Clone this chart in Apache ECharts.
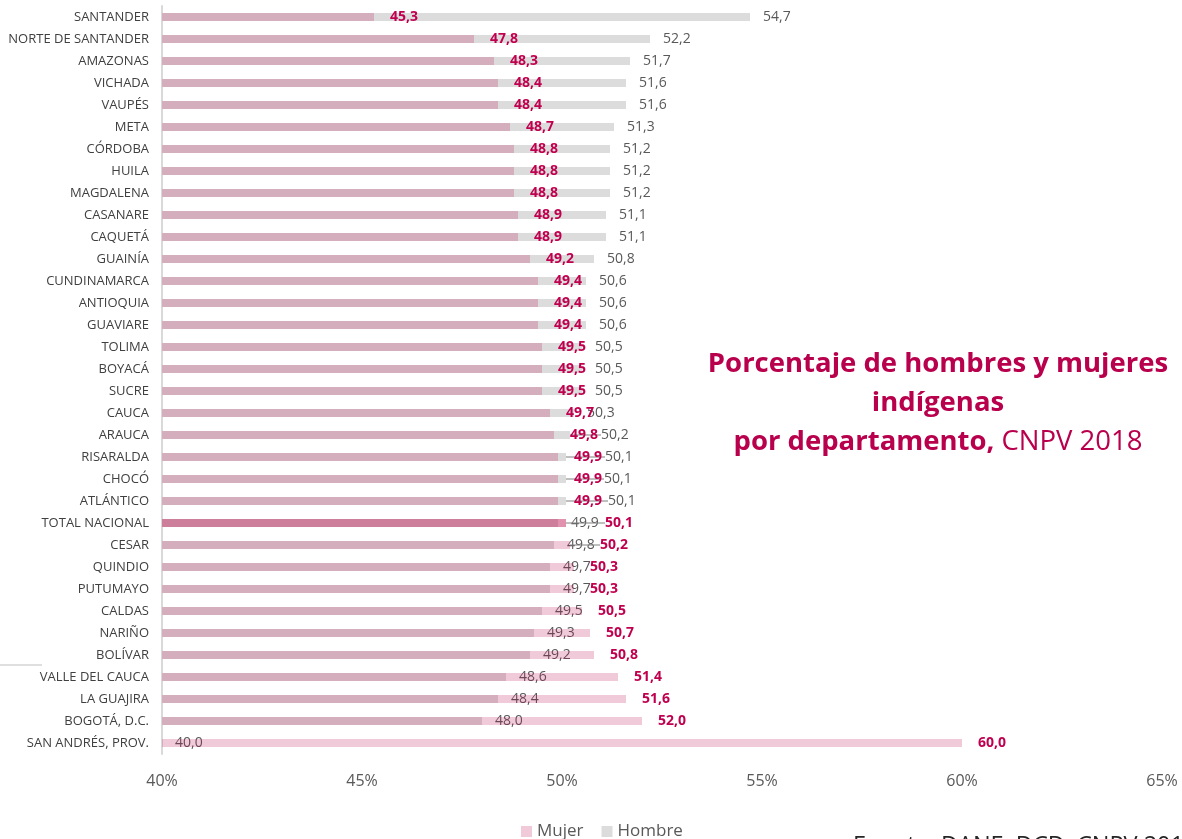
<!DOCTYPE html>
<html>
<head>
<meta charset="utf-8">
<script src="https://cdn.jsdelivr.net/npm/echarts@6/dist/echarts.min.js"></script>
<style>
html,body{margin:0;padding:0;background:#fff;}
#c{width:1182px;height:839px;}
</style>
</head>
<body>
<div id="c"></div>
<script>
const categories = ['SANTANDER','NORTE DE SANTANDER','AMAZONAS','VICHADA','VAUPÉS','META','CÓRDOBA','HUILA','MAGDALENA','CASANARE','CAQUETÁ','GUAINÍA','CUNDINAMARCA','ANTIOQUIA','GUAVIARE','TOLIMA','BOYACÁ','SUCRE','CAUCA','ARAUCA','RISARALDA','CHOCÓ','ATLÁNTICO','TOTAL NACIONAL','CESAR','QUINDIO','PUTUMAYO','CALDAS','NARIÑO','BOLÍVAR','VALLE DEL CAUCA','LA GUAJIRA','BOGOTÁ, D.C.','SAN ANDRÉS, PROV.'];
const mujer = [45.3,47.8,48.3,48.4,48.4,48.7,48.8,48.8,48.8,48.9,48.9,49.2,49.4,49.4,49.4,49.5,49.5,49.5,49.7,49.8,49.9,49.9,49.9,50.1,50.2,50.3,50.3,50.5,50.7,50.8,51.4,51.6,52.0,60.0];
const hombre = [54.7,52.2,51.7,51.6,51.6,51.3,51.2,51.2,51.2,51.1,51.1,50.8,50.6,50.6,50.6,50.5,50.5,50.5,50.3,50.2,50.1,50.1,50.1,49.9,49.8,49.7,49.7,49.5,49.3,49.2,48.6,48.4,48.0,40.0];
const axisMin = 40, axisMax = 65, axisStep = 5;
const seriesNames = ['Mujer','Hombre'];
const totalLabel = 'TOTAL NACIONAL';

// label nudges (styling only): labels moved aside in the original to avoid overlap
const hombreLabelNudge = {'ARAUCA':18,'RISARALDA':26,'CHOCÓ':25,'ATLÁNTICO':29};
const mujerLabelNudge = {'TOTAL NACIONAL':23,'CESAR':14};

const fmt = v => (typeof v === 'object' ? v.value : v).toFixed(1).replace('.', ',');
const chart = echarts.init(document.getElementById('c'), null, {renderer:'canvas'});
const FONT = "'Open Sans', 'Noto Sans', sans-serif";
const leader = {show:true, lineStyle:{color:'#7f7f7f', width:1}};

const hombreData = hombre.map((v,i)=> hombreLabelNudge[categories[i]] ? {value:v, labelLine:leader} : v);
const mujerData = mujer.map((v,i)=> {
  const item = {value:v};
  if (categories[i]===totalLabel) item.itemStyle = {color:'rgba(184,3,69,0.43)'};
  if (mujerLabelNudge[categories[i]]) item.labelLine = leader;
  return item;
});

chart.setOption({
  animation:false,
  backgroundColor:'#ffffff',
  textStyle:{fontFamily:FONT},
  title:{
    left:933, top:340, textAlign:'center',
    text:'{b|Porcentaje de hombres y mujeres}\n{b|indígenas}\n{b|por departamento,}{n| CNPV 2018}',
    textStyle:{
      rich:{
        b:{fontFamily:FONT,fontSize:27.5,fontWeight:'bold',color:'#b8004c',lineHeight:39},
        n:{fontFamily:FONT,fontSize:27.5,fontWeight:'normal',color:'#b8004c',lineHeight:39}
      }
    }
  },
  legend:{
    data:seriesNames,
    left:521, top:823, padding:0,
    itemWidth:11, itemHeight:11, itemGap:18,
    icon:'rect',
    textStyle:{fontFamily:FONT,fontSize:17,color:'#595959'}
  },
  grid:{left:162, right:20, top:6, bottom:85, containLabel:false},
  xAxis:{
    type:'value', min:axisMin, max:axisMax, interval:axisStep,
    axisLine:{show:false}, axisTick:{show:false}, splitLine:{show:false},
    axisLabel:{formatter:'{value}%', fontFamily:FONT, fontSize:16, color:'#595959', margin:19}
  },
  yAxis:{
    type:'category', data:categories, inverse:true,
    axisLine:{show:true, lineStyle:{color:'#d9d9d9', width:2}},
    axisTick:{show:false},
    axisLabel:{fontFamily:FONT, fontSize:13, color:'#404040', margin:13}
  },
  series:[
    {
      name:'Hombre', type:'bar', barWidth:8, barGap:'-100%', z:2,
      itemStyle:{color:'#dcdcdc'},
      data:hombreData,
      label:{show:true, position:'right', distance:13, formatter:p=>fmt(p.value),
        fontFamily:FONT, fontSize:14, color:'#595959', offset:[0,1]},
      labelLine:{show:false},
      labelLayout:function(p){ const d = hombreLabelNudge[categories[p.dataIndex]]; return d ? {dx:d} : {}; }
    },
    {
      name:'Mujer', type:'bar', barWidth:8, barGap:'-100%', z:3,
      itemStyle:{color:'rgba(184,3,69,0.21)'},
      data:mujerData,
      label:{show:true, position:'right', distance:16, formatter:p=>fmt(p.value),
        fontFamily:FONT, fontSize:14, fontWeight:'bold', color:'#c0004f', offset:[0,1]},
      labelLine:{show:false},
      labelLayout:function(p){ const d = mujerLabelNudge[categories[p.dataIndex]]; return d ? {dx:d} : {}; }
    }
  ],
  graphic:[
    {type:'line', shape:{x1:0,y1:665,x2:42,y2:665}, style:{stroke:'#bfbfbf', lineWidth:1}},
    {type:'text', left:853, top:834, style:{text:'Fuente: DANE, DCD, CNPV 2018', fontFamily:FONT, fontSize:23.5, fill:'#262626'}}
  ]
});
</script>
</body>
</html>
